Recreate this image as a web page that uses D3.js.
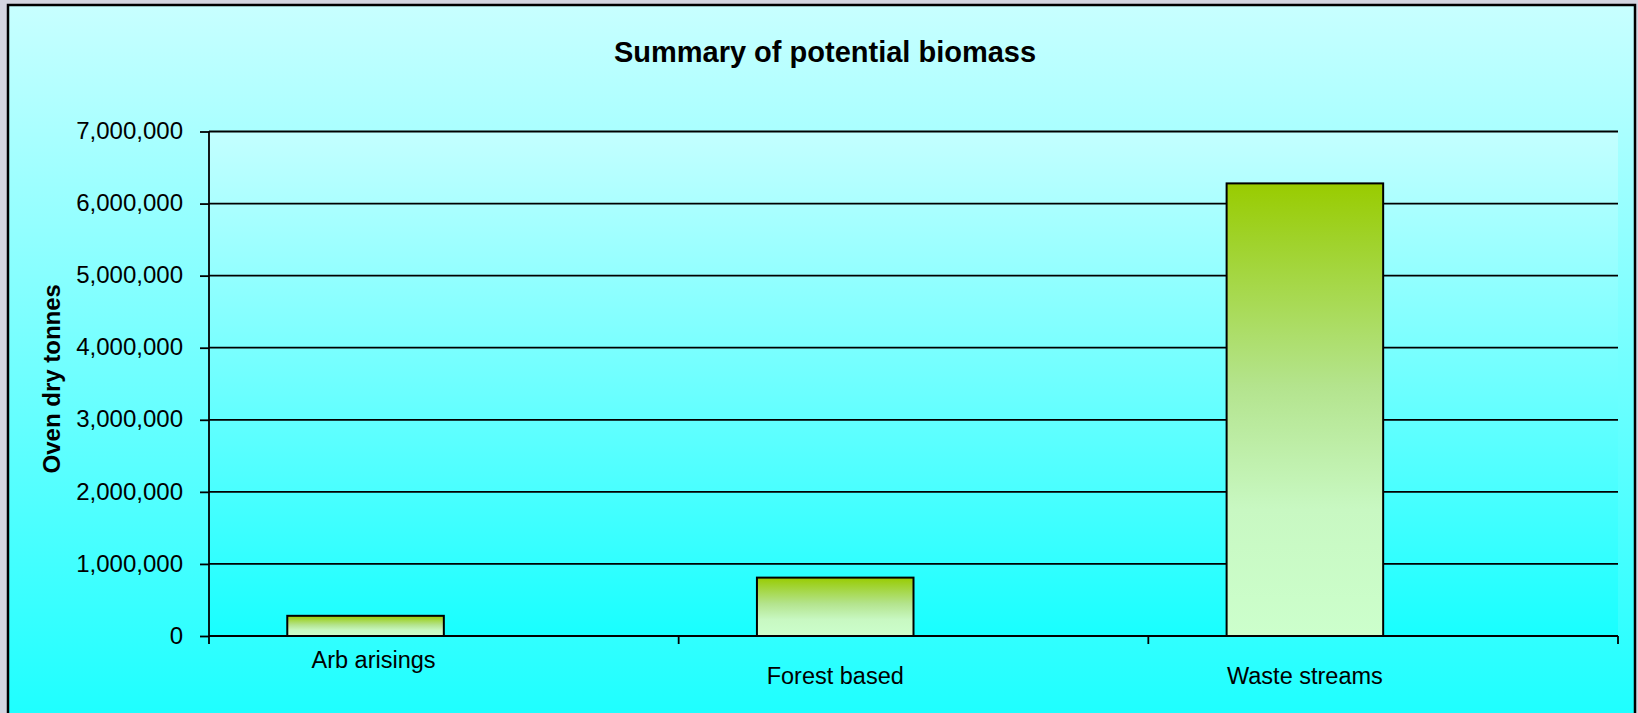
<!DOCTYPE html>
<html>
<head>
<meta charset="utf-8">
<script src="https://cdn.jsdelivr.net/npm/d3@7"></script>
<style>
  body { margin: 0; background: #d4d5e0; overflow: hidden; }
  text { font-family: "Liberation Sans", Arial, sans-serif; fill: #000; }
</style>
</head>
<body>
<script>
var swidth = 1638,
    sheight = 713,
    margin = {top: 131.5, right: 20, bottom: 77, left: 209},
    width = swidth - margin.left - margin.right,
    height = sheight - margin.top - margin.bottom;

// chart data
var title = "Summary of potential biomass";
var yTitle = "Oven dry tonnes";
var categories = ["Arb arisings", "Forest based", "Waste streams"];
var tonnes = [280000, 810000, 6280000];
// the original chart keeps a slot for a second (empty) series
var seriesSlots = ["tonnes", "blank"];
var yTicks = [0, 1000000, 2000000, 3000000, 4000000, 5000000, 6000000, 7000000];

var svg = d3.select("body").append("svg")
    .attr("width", swidth)
    .attr("height", sheight);

var defs = svg.append("defs");

function vGradient(id, stops) {
  var g = defs.append("linearGradient")
      .attr("id", id)
      .attr("x1", 0).attr("y1", 0)
      .attr("x2", 0).attr("y2", 1);
  g.selectAll("stop")
    .data(stops)
    .enter().append("stop")
      .attr("offset", function(d) { return d[0]; })
      .attr("stop-color", function(d) { return d[1]; });
}

vGradient("chartBg", [[0, "#c8ffff"], [1, "#12ffff"]]);
vGradient("plotBg", [[0, "#c4ffff"], [1, "#18ffff"]]);
vGradient("barFill", [[0, "#99cc00"], [0.12, "#9fd228"], [0.45, "#b4e48e"], [0.72, "#c8f8c2"], [1, "#ccffcc"]]);

// chart area with frame
svg.append("rect")
    .attr("x", 8)
    .attr("y", 5)
    .attr("width", 1627)
    .attr("height", 760)
    .attr("fill", "url(#chartBg)")
    .attr("stroke", "#000")
    .attr("stroke-width", 2.5);

var g = svg.append("g")
    .attr("transform", "translate(" + margin.left + "," + margin.top + ")");

var x = d3.scaleBand()
    .domain(categories)
    .range([0, 1409])
    .padding(0);

var x1 = d3.scaleBand()
    .domain(seriesSlots)
    .range([0, x.bandwidth()])
    .paddingInner(0)
    .paddingOuter(0.5);

var y = d3.scaleLinear()
    .domain([0, 7000000])
    .range([504.5, 0]);

var plotW = x.range()[1],
    plotH = y.range()[0];

g.append("rect")
    .attr("width", plotW)
    .attr("height", plotH)
    .attr("fill", "url(#plotBg)");

// gridlines
g.append("g")
  .selectAll("line")
  .data(yTicks)
  .enter().append("line")
    .attr("x1", 0)
    .attr("x2", plotW)
    .attr("y1", function(d) { return y(d); })
    .attr("y2", function(d) { return y(d); })
    .attr("stroke", "#000")
    .attr("stroke-width", 1.8);

// bars
g.append("g")
  .selectAll("rect")
  .data(tonnes)
  .enter().append("rect")
    .attr("x", function(d, i) { return x(categories[i]) + x1("tonnes"); })
    .attr("y", function(d) { return y(d); })
    .attr("width", x1.bandwidth())
    .attr("height", function(d) { return y(0) - y(d); })
    .attr("fill", "url(#barFill)")
    .attr("stroke", "#000")
    .attr("stroke-width", 2);

// y axis
var yAxis = g.append("g")
    .call(d3.axisLeft(y)
      .tickValues(yTicks)
      .tickSize(9)
      .tickPadding(17)
      .tickFormat(d3.format(",")));
yAxis.select(".domain").remove();
yAxis.selectAll("line").attr("stroke", "#000").attr("stroke-width", 1.8);
yAxis.selectAll("text")
    .attr("font-size", 24)
    .attr("font-family", "Liberation Sans, Arial, sans-serif")
    .attr("dy", "0.3em");

g.append("line")
    .attr("x1", 0).attr("x2", 0)
    .attr("y1", 0).attr("y2", plotH + 8)
    .attr("stroke", "#000")
    .attr("stroke-width", 1.8);

// x axis
g.append("line")
    .attr("x1", 0).attr("x2", plotW)
    .attr("y1", plotH).attr("y2", plotH)
    .attr("stroke", "#000")
    .attr("stroke-width", 1.8);

g.append("g")
  .selectAll("line")
  .data(categories.slice(1).map(function(c) { return x(c); }).concat([plotW]))
  .enter().append("line")
    .attr("x1", function(d) { return d; })
    .attr("x2", function(d) { return d; })
    .attr("y1", plotH)
    .attr("y2", plotH + 8)
    .attr("stroke", "#000")
    .attr("stroke-width", 1.8);

g.append("g")
  .selectAll("text")
  .data(categories)
  .enter().append("text")
    .attr("x", function(d, i) { return x(d) + x1("tonnes") + x1.bandwidth() / 2 + (i === 0 ? 8 : 0); })
    .attr("y", function(d, i) { return plotH + (i === 0 ? 32 : 48); })
    .attr("text-anchor", "middle")
    .attr("font-size", 23.5)
    .text(function(d) { return d; });

// titles
svg.append("text")
    .attr("x", 825)
    .attr("y", 61.5)
    .attr("text-anchor", "middle")
    .attr("font-size", 29)
    .attr("font-weight", "bold")
    .text(title);

svg.append("text")
    .attr("transform", "translate(60," + (margin.top + y(3500000) - 5) + ") rotate(-90)")
    .attr("text-anchor", "middle")
    .attr("font-size", 24)
    .attr("font-weight", "bold")
    .text(yTitle);
</script>
</body>
</html>
